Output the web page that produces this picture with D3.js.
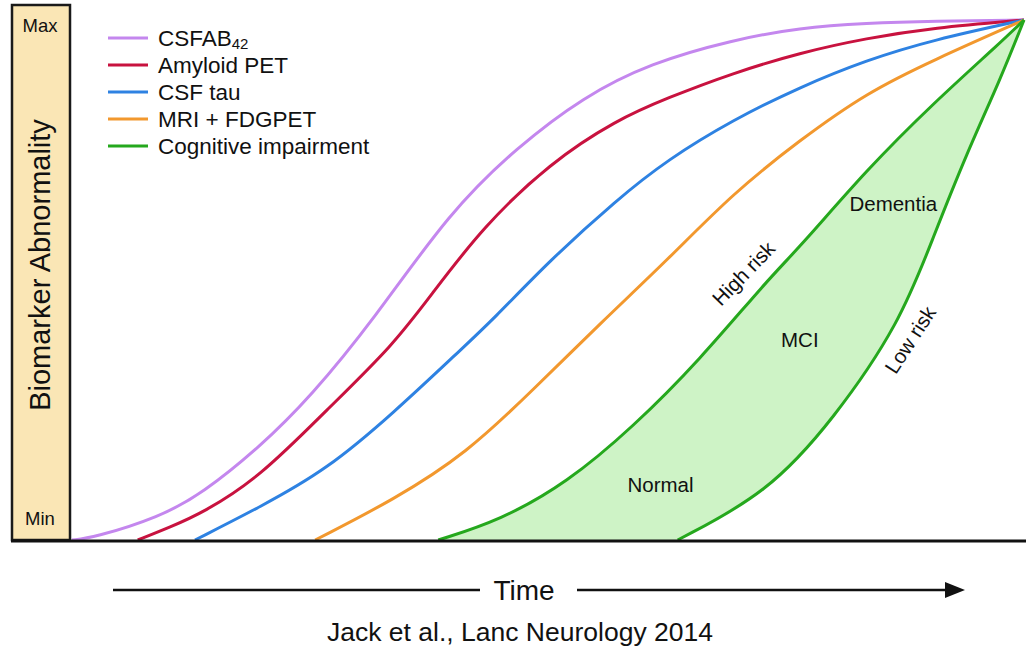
<!DOCTYPE html>
<html><head><meta charset="utf-8">
<script src="https://cdn.jsdelivr.net/npm/d3@7"></script>
<style>body{margin:0;background:#fff}svg{display:block}text{font-family:"Liberation Sans",Arial,sans-serif;fill:#111}</style>
</head><body>
<svg id="c" width="1026" height="650"></svg>
<script>
// Series: [time (0-100), abnormality (0-100)] pairs
const seriesNames = ["CSFAB42", "Amyloid PET", "CSF tau", "MRI + FDGPET", "Cognitive impairment"];
const csfab42 = [[0.2,0],[2.4,0.4],[9.4,4.4],[13.9,9.0],[19.9,17.9],[25.2,27.5],[31.8,42.3],[39.8,63.1],[46.9,75.6],[53.8,85.2],[60.8,91.7],[69.5,96.2],[76.5,98.5],[83.5,99.4],[90.5,99.8],[100,100]];
const amyloidPET = [[7.1,0],[10.5,2.5],[13.9,5.2],[19.9,12.1],[26.9,25.0],[33.9,37.5],[38.0,47.5],[43.3,60.2],[50.3,72.5],[57.3,80.8],[62.6,85.0],[69.5,89.8],[76.5,93.7],[83.5,96.5],[90.5,98.5],[100,100]];
const csfTau = [[13.1,0],[19.9,6.3],[26.9,13.5],[33.9,24.4],[40.9,36.5],[44.3,42.3],[50.3,53.8],[57.3,65.4],[62.6,73.1],[69.5,80.8],[76.5,87.1],[83.5,92.3],[90.5,96.2],[100,100]];
const mriFdg = [[25.7,0],[33.9,7.7],[41.6,16.7],[48.5,28.8],[55.6,41.7],[62.6,53.8],[69.5,66.7],[76.5,76.9],[83.5,86.0],[90.5,92.3],[100,100]];
const cogHighRisk = [[38.6,0],[45.1,3.8],[52.1,11.0],[59.0,21.7],[66.0,34.6],[73.1,50.0],[76.5,56.3],[83.5,71.2],[90.5,84.0],[97.5,95.6],[100,100]];
const cogLowRisk = [[63.7,0],[73.1,9.0],[80.0,23.1],[87.0,41.7],[90.5,58.3],[94.0,74.4],[97.5,88.5],[100,100]];
const yTickLabels = ["Min", "Max"];
const regionLabels = ["Normal", "MCI", "Dementia"];
const riskLabels = ["High risk", "Low risk"];
const xLabel = "Time";
const yLabel = "Biomarker Abnormality";
const caption = "Jack et al., Lanc Neurology 2014";

const colors = ["#c487ee", "#c8123f", "#2e82e2", "#f2982e", "#25a81d"];
const fillGreen = "#cef3c6";

const svg = d3.select("#c");
const x = d3.scaleLinear().domain([0,100]).range([70,1024]);
const y = d3.scaleLinear().domain([0,100]).range([540,20]);
const line = d3.line().x(d=>x(d[0])).y(d=>y(d[1])).curve(d3.curveBasis);

// y label box
svg.append("rect").attr("x",12).attr("y",5).attr("width",58).attr("height",535)
  .attr("fill","#fae6b5").attr("stroke","#1a1a1a").attr("stroke-width",2.5);
svg.append("text").attr("x",40).attr("y",y(100)+12).attr("text-anchor","middle").attr("font-size",18.5).text(yTickLabels[1]);
svg.append("text").attr("x",40).attr("y",y(0)-15).attr("text-anchor","middle").attr("font-size",18.5).text(yTickLabels[0]);
svg.append("text").attr("transform","translate(50,265) rotate(-90)").attr("text-anchor","middle").attr("font-size",29).text(yLabel);

// green band (even-odd between the two cognitive curves)
const closeUnder = pts => line(pts) + "L" + x(100) + "," + y(0) + "Z";
svg.append("path").attr("d", closeUnder(cogHighRisk) + closeUnder(cogLowRisk))
  .attr("fill", fillGreen).attr("fill-rule","evenodd");

const series = [csfab42, amyloidPET, csfTau, mriFdg];
series.forEach((s,i)=>{
  svg.append("path").attr("d",line(s)).attr("fill","none").attr("stroke",colors[i]).attr("stroke-width",3);
});
[cogHighRisk, cogLowRisk].forEach(s=>{
  svg.append("path").attr("d",line(s)).attr("fill","none").attr("stroke",colors[4]).attr("stroke-width",3);
});

// baseline
svg.append("line").attr("x1",11).attr("x2",1026).attr("y1",541).attr("y2",541).attr("stroke","#111").attr("stroke-width",3);

// legend
seriesNames.forEach((n,i)=>{
  const cy = 38 + i*27;
  svg.append("line").attr("x1",108).attr("x2",148).attr("y1",cy).attr("y2",cy).attr("stroke",colors[i]).attr("stroke-width",3);
  const t = svg.append("text").attr("x",158).attr("y",cy+8).attr("font-size",22.5);
  if (n === "CSFAB42") {
    t.text("CSFAB");
    t.append("tspan").attr("font-size",15).attr("dy",3).text("42");
  } else t.text(n);
});

// region labels
const regionPos = [[x(61.9),y(10.5)],[x(76.5),y(38.4)],[x(86.3),y(64.7)]];
regionLabels.forEach((r,i)=>{
  svg.append("text").attr("x",regionPos[i][0]).attr("y",regionPos[i][1]+7).attr("text-anchor","middle").attr("font-size",20.5).text(r);
});
svg.append("text").attr("transform",`translate(${x(71.6)},${y(49.5)}) rotate(-46)`).attr("text-anchor","middle").attr("dy",-6).attr("font-size",20.5).text(riskLabels[0]);
svg.append("text").attr("transform",`translate(${x(88.1)},${y(38.5)}) rotate(-57)`).attr("text-anchor","middle").attr("dy",7).attr("font-size",20.5).text(riskLabels[1]);

// time arrow
svg.append("line").attr("x1",113).attr("x2",480).attr("y1",590).attr("y2",590).attr("stroke","#111").attr("stroke-width",2.5);
svg.append("line").attr("x1",577).attr("x2",950).attr("y1",590).attr("y2",590).attr("stroke","#111").attr("stroke-width",2.5);
svg.append("path").attr("d","M945,582L965,590L945,598Z").attr("fill","#111");
svg.append("text").attr("x",524).attr("y",600).attr("text-anchor","middle").attr("font-size",28).text(xLabel);
svg.append("text").attr("x",520).attr("y",641).attr("text-anchor","middle").attr("font-size",26.5).text(caption);
</script>
</body></html>
